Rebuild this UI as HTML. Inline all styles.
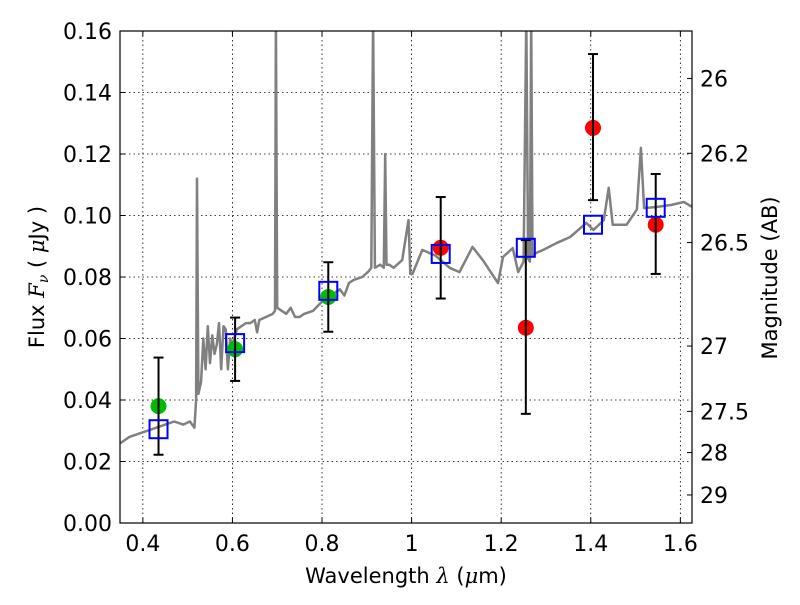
<!DOCTYPE html>
<html><head><meta charset="utf-8"><style>
body{margin:0;background:#fff}
svg{font-family:"DejaVu Sans","Liberation Sans",sans-serif}
</style></head><body>
<svg id="chart" width="800" height="600" viewBox="0 0 800 600">
<defs><clipPath id="clip"><rect x="120" y="31" width="572" height="492"/></clipPath></defs>
<rect x="0" y="0" width="800" height="600" fill="#fff"/>
<g id="grid"></g>
<g id="spec" clip-path="url(#clip)"></g>
<g id="marks"></g>
<rect x="120" y="31" width="572" height="492" fill="none" stroke="#000" stroke-width="1.2"/>
<g id="axes"></g>
<text x="406" y="583" font-size="21" text-anchor="middle">Wavelength  <tspan font-style="italic" font-family="'DejaVu Serif',serif">λ</tspan> (<tspan font-style="italic" font-family="'DejaVu Serif',serif">μ</tspan>m)</text>
<text transform="translate(44,277) rotate(-90)" font-size="21" text-anchor="middle">Flux  <tspan font-style="italic" font-family="'DejaVu Serif',serif">F</tspan><tspan font-style="italic" font-size="14" dy="4" font-family="'DejaVu Serif',serif">ν</tspan><tspan dy="-4">  ( </tspan><tspan font-style="italic" font-family="'DejaVu Serif',serif">μ</tspan>Jy )</text>
<text transform="translate(777,278) rotate(-90)" font-size="21" text-anchor="middle">Magnitude (AB)</text>
</svg>
<script>
const specW=[0.35,0.37,0.39,0.41,0.43,0.45,0.47,0.49,0.505,0.515,0.519,0.521,0.524,0.53,0.535,0.54,0.545,0.55,0.555,0.56,0.565,0.57,0.575,0.58,0.585,0.59,0.595,0.60,0.61,0.62,0.63,0.64,0.65,0.655,0.66,0.675,0.69,0.695,0.697,0.700,0.71,0.72,0.73,0.74,0.75,0.76,0.78,0.80,0.82,0.84,0.85,0.86,0.87,0.89,0.905,0.910,0.914,0.918,0.93,0.938,0.941,0.944,0.95,0.96,0.979,0.993,0.995,0.997,1.002,1.024,1.053,1.085,1.107,1.136,1.159,1.193,1.204,1.226,1.238,1.250,1.256,1.260,1.264,1.267,1.270,1.278,1.294,1.323,1.354,1.39,1.406,1.429,1.44,1.449,1.48,1.503,1.512,1.519,1.548,1.579,1.608,1.624,1.638];
const specF=[0.026,0.028,0.029,0.030,0.031,0.032,0.033,0.032,0.033,0.031,0.040,0.112,0.042,0.046,0.060,0.050,0.064,0.052,0.061,0.055,0.058,0.065,0.050,0.064,0.063,0.050,0.060,0.058,0.063,0.064,0.065,0.065,0.066,0.062,0.066,0.067,0.068,0.069,0.165,0.070,0.069,0.068,0.070,0.067,0.067,0.068,0.069,0.072,0.074,0.076,0.074,0.078,0.079,0.080,0.082,0.083,0.165,0.083,0.084,0.083,0.12,0.084,0.084,0.083,0.0855,0.0985,0.090,0.081,0.081,0.0888,0.087,0.083,0.0816,0.0898,0.0855,0.078,0.0865,0.0894,0.0816,0.085,0.165,0.086,0.085,0.165,0.087,0.0878,0.0888,0.091,0.093,0.0976,0.0953,0.0985,0.109,0.097,0.097,0.102,0.122,0.1024,0.1028,0.1034,0.1044,0.103,0.104];
const greenW=[0.435,0.606,0.814];
const greenF=[0.038,0.0565,0.0735];
const greenE=[0.0158,0.0103,0.0113];
const redW=[1.065,1.255,1.405,1.545];
const redF=[0.0895,0.0635,0.1285,0.097];
const redHi=[0.106,0.092,0.1525,0.1135];
const redLo=[0.073,0.0355,0.105,0.081];
const modelW=[0.435,0.606,0.814,1.065,1.255,1.405,1.545];
const modelF=[0.0305,0.0585,0.0755,0.0875,0.0895,0.097,0.1025];
const xTicks=[0.4,0.6,0.8,1.0,1.2,1.4,1.6];
const xTickLabels=["0.4","0.6","0.8","1","1.2","1.4","1.6"];
const yTicks=[0,0.02,0.04,0.06,0.08,0.1,0.12,0.14,0.16];
const yTickLabels=["0.00","0.02","0.04","0.06","0.08","0.10","0.12","0.14","0.16"];
const magTicks=[26,26.2,26.5,27,27.5,28,29];
const magLabels=["26","26.2","26.5","27","27.5","28","29"];

const X0=120,X1=692,Y0=523,Y1=31,XMIN=0.349,XMAX=1.626,YMIN=0,YMAX=0.16;
const sx=v=>X0+(v-XMIN)/(XMAX-XMIN)*(X1-X0);
const sy=v=>Y0-(v-YMIN)/(YMAX-YMIN)*(Y0-Y1);
const magToFlux=m=>Math.pow(10,-0.4*(m-23.9));
const NS="http://www.w3.org/2000/svg";
function mk(tag,attrs,parent,txt){const e=document.createElementNS(NS,tag);for(const k in attrs)e.setAttribute(k,attrs[k]);if(txt!==undefined)e.textContent=txt;parent.appendChild(e);return e;}
const grid=document.getElementById('grid'),axes=document.getElementById('axes'),spec=document.getElementById('spec'),marks=document.getElementById('marks');

xTicks.forEach((t,i)=>{
 const x=sx(t);
 const g=mk('line',{x1:x,x2:x,y1:Y1,y2:Y0,stroke:'#000','stroke-width':0.8,'stroke-dasharray':'1.5,3'},grid);
 
 
 mk('line',{x1:x,x2:x,y1:Y0,y2:Y0-5,stroke:'#000'},axes);
 mk('line',{x1:x,x2:x,y1:Y1,y2:Y1+5,stroke:'#000'},axes);
 const l=mk('text',{x:x,y:Y0+28,'font-size':22,'text-anchor':'middle'},axes,xTickLabels[i]);
 
 
});
yTicks.forEach((t,i)=>{
 const y=sy(t);
 if(i>0&&i<yTicks.length-1){
  const g=mk('line',{x1:X0,x2:X1,y1:y,y2:y,stroke:'#000','stroke-width':0.8,'stroke-dasharray':'1.5,3'},grid);
  
  
 }
 mk('line',{x1:X0,x2:X0+5,y1:y,y2:y,stroke:'#000'},axes);
 const l=mk('text',{x:X0-8,y:y+8,'font-size':22,'text-anchor':'end'},axes,yTickLabels[i]);
 
 
});
magTicks.forEach((m,i)=>{
 const y=sy(magToFlux(m));
 mk('line',{x1:X1,x2:X1-5,y1:y,y2:y,stroke:'#000'},axes);
 const l=mk('text',{x:X1+8,y:y+8,'font-size':22},axes,magLabels[i]);
 
 
});

let d='';specW.forEach((w,i)=>{d+=(i?'L':'M')+sx(w).toFixed(1)+','+sy(specF[i]).toFixed(1);});
const p=mk('path',{d:d,fill:'none',stroke:'#808080','stroke-width':2.5,'stroke-linejoin':'round'},spec);



function errbar(x,lo,hi){
 const X=sx(x);
 mk('line',{x1:X,x2:X,y1:sy(lo),y2:sy(hi),stroke:'#000','stroke-width':2},marks);
 mk('line',{x1:X-5,x2:X+5,y1:sy(lo),y2:sy(lo),stroke:'#000','stroke-width':2},marks);
 mk('line',{x1:X-5,x2:X+5,y1:sy(hi),y2:sy(hi),stroke:'#000','stroke-width':2},marks);
}
greenW.forEach((w,i)=>{
 const c=mk('circle',{cx:sx(w),cy:sy(greenF[i]),r:8,fill:'#00bb00'},marks);
 
 
 errbar(w,greenF[i]-greenE[i],greenF[i]+greenE[i]);
});
redW.forEach((w,i)=>{
 const c=mk('circle',{cx:sx(w),cy:sy(redF[i]),r:8,fill:'#ff0000'},marks);
 
 
 errbar(w,redLo[i],redHi[i]);
});
modelW.forEach((w,i)=>{
 const r=mk('rect',{x:sx(w)-9,y:sy(modelF[i])-9,width:18,height:18,fill:'none',stroke:'#0000ff','stroke-width':2},marks);
 
 
});
</script>
</body></html>
